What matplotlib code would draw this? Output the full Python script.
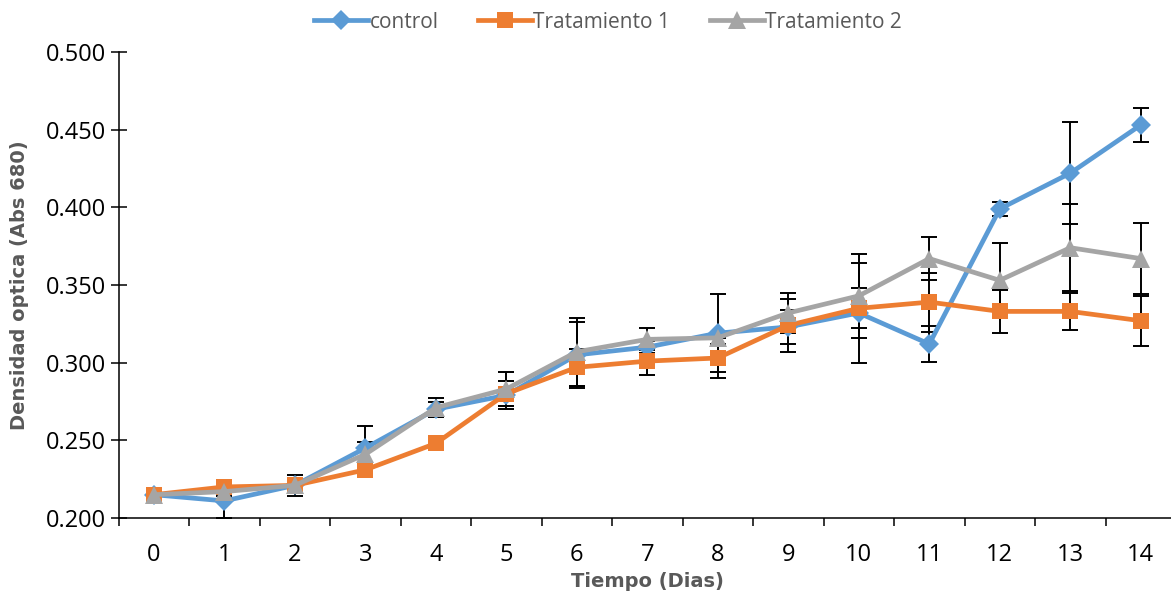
import numpy as np
import matplotlib
matplotlib.use('Agg')
import matplotlib.pyplot as plt
from matplotlib.ticker import FormatStrFormatter, MultipleLocator

plt.rcParams['font.family'] = ['Open Sans', 'DejaVu Sans']

# data
days = list(range(15))
control = [0.215, 0.211, 0.221, 0.245, 0.270, 0.279, 0.305, 0.310, 0.319, 0.323,
           0.332, 0.312, 0.399, 0.422, 0.453]
trat1 = [0.215, 0.220, 0.221, 0.231, 0.248, 0.280, 0.297, 0.301, 0.303, 0.324,
         0.335, 0.339, 0.333, 0.333, 0.327]
trat2 = [0.215, 0.217, 0.221, 0.241, 0.271, 0.283, 0.307, 0.315, 0.316, 0.332,
         0.343, 0.367, 0.353, 0.374, 0.367]

# error bars (+/-)
control_err = [0.002, 0.011, 0.003, 0.014, 0.005, 0.009, 0.021, 0.004, 0.025, 0.011,
               0.032, 0.0115, 0.0045, 0.033, 0.011]
trat1_err = [0.002, 0.003, 0.007, 0.003, 0.003, 0.008, 0.012, 0.009, 0.013, 0.017,
             0.013, 0.019, 0.014, 0.012, 0.016]
trat2_err = [0.002, 0.003, 0.004, 0.008, 0.006, 0.011, 0.022, 0.007, 0.004, 0.013,
             0.027, 0.014, 0.024, 0.028, 0.023]

labels = ['control', 'Tratamiento 1', 'Tratamiento 2']
colors = ['#5B9BD5', '#ED7D31', '#A5A5A5']
markers = ['D', 's', '^']
msizes = [10.5, 11.5, 13]

fig = plt.figure(figsize=(11.71, 5.96), dpi=100)
ax = fig.add_axes([118.5 / 1171, 78 / 596, (1176 - 118.5) / 1171, 466 / 596])

series = [control, trat1, trat2]
errs = [control_err, trat1_err, trat2_err]

# error bars first, underneath the lines
for vals, err in zip(series, errs):
    ax.errorbar(days, vals, yerr=err, fmt='none', ecolor='black', elinewidth=1.4,
                capsize=6, capthick=1.4, zorder=1)

handles = []
for i, vals in enumerate(series):
    h, = ax.plot(days, vals, color=colors[i], linewidth=3.4, marker=markers[i],
                 markersize=msizes[i], markeredgewidth=0, zorder=2 + i, label=labels[i])
    handles.append(h)

ax.set_xlim(-0.5, 14.5)
ax.set_ylim(0.2, 0.5)
ax.yaxis.set_major_locator(MultipleLocator(0.05))
ax.yaxis.set_major_formatter(FormatStrFormatter('%.3f'))
ax.set_xticks(days)
ax.set_xticks(np.arange(-0.5, 15, 1), minor=True)

for s in ['top', 'right']:
    ax.spines[s].set_visible(False)
for s in ['left', 'bottom']:
    ax.spines[s].set_linewidth(1.1)

ax.tick_params(axis='x', which='major', length=0, pad=18, labelsize=17)
ax.tick_params(axis='x', which='minor', length=6, width=1.1, direction='out')
ax.tick_params(axis='y', which='major', length=12, width=1.1, direction='inout',
               pad=3, labelsize=17)

lab_font = dict(family=['DejaVu Sans'], fontsize=14, fontweight='bold',
                color='#595959')
ax.set_xlabel('Tiempo (Dias)', **lab_font)
ax.set_ylabel('Densidad optica (Abs 680)', **lab_font)
ax.xaxis.set_label_coords(0.5, -0.115)
ax.yaxis.set_label_coords(-0.085, 0.5)

fig.legend(handles=handles, loc='center', bbox_to_anchor=(608 / 1171, 1 - 22 / 596),
           ncol=3, frameon=False, fontsize=15, labelcolor='#595959', handlelength=2.6,
           columnspacing=1.9, handletextpad=0.05)

fig.savefig('out.png', dpi=100)
